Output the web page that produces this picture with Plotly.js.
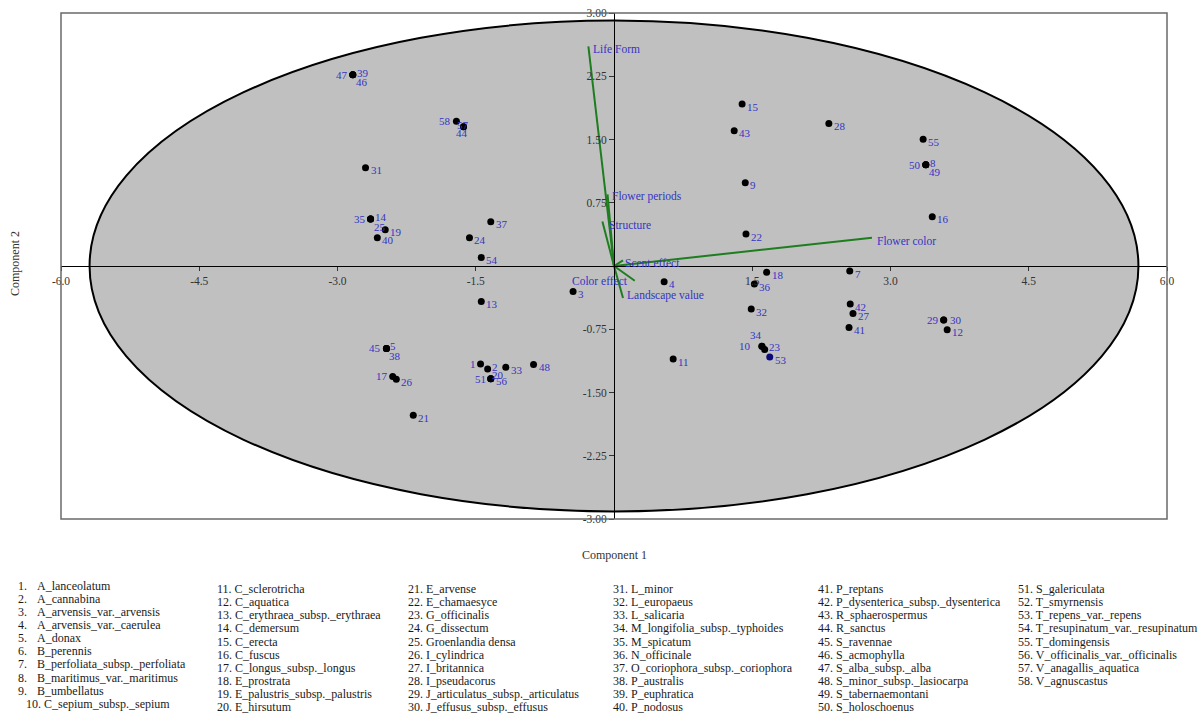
<!DOCTYPE html>
<html>
<head>
<meta charset="utf-8">
<script src="https://cdn.plot.ly/plotly-3.0.1.min.js"></script>
<style>
  html, body { margin: 0; padding: 0; background: #ffffff; }
  #chart { width: 1201px; height: 713px; }
</style>
</head>
<body>
<div id="chart"></div>
<script>
// ---------------- DATA ----------------
const pointIds = [1, 2, 3, 4, 5, 7, 8, 9, 10, 11, 12, 13, 14, 15, 16, 17, 18, 19, 20, 21,
  22, 23, 24, 25, 26, 27, 28, 29, 30, 31, 32, 33, 34, 35, 36, 37, 38, 39, 40, 41,
  42, 43, 44, 45, 46, 47, 48, 49, 50, 51, 53, 54, 55, 56, 57, 58];
const component1 = [-1.448, -1.371, -0.444, 0.544, -2.469, 2.558, 3.383, 1.424, 1.605, 0.642,
  3.615, -1.440, -2.641, 1.390, 3.453, -2.401, 1.656, -2.482, -1.337, -2.178,
  1.432, 1.635, -1.568, -2.641, -2.362, 2.593, 2.331, 3.577, 3.577, -2.696,
  1.489, -1.174, 1.605, -2.641, 1.523, -1.337, -2.469, -2.834, -2.568, 2.550,
  2.563, 1.304, -1.633, -2.469, -2.834, -2.834, -0.873, 3.383, 3.383, -1.337,
  1.690, -1.440, 3.354, -1.337, -1.633, -1.710];
const component2 = [-1.162, -1.222, -0.301, -0.186, -0.977, -0.060, 1.201, 0.988, -0.953, -1.103,
  -0.755, -0.420, 0.557, 1.921, 0.585, -1.309, -0.075, 0.430, -1.336, -1.771,
  0.379, -0.989, 0.336, 0.557, -1.344, -0.562, 1.691, -0.640, -0.640, 1.166,
  -0.510, -1.202, -0.953, 0.557, -0.214, 0.525, -0.977, 2.268, 0.336, -0.728,
  -0.451, 1.604, 1.652, -0.977, 2.268, 2.268, -1.167, 1.201, 1.201, -1.336,
  -1.079, 0.102, 1.502, -1.336, 1.652, 1.715];

const variableNames = ["Life Form", "Flower periods", "Structure", "Flower color",
  "Scent effect", "Color effect", "Landscape value"];
const loading1 = [-0.278, -0.070, -0.126, 2.799, 0.098, 0.225, 0.098];
const loading2 = [2.604, 0.850, 0.529, 0.336, 0.066, -0.175, -0.380];

const ellipseSemiAxis1 = 5.69;
const ellipseSemiAxis2 = 2.91;

const xTickValues = [-6, -4.5, -3, -1.5, 1.5, 3, 4.5, 6];
const xTickLabels = ["-6.0", "-4.5", "-3.0", "-1.5", "1.5", "3.0", "4.5", "6.0"];
const yTickValues = [3, 2.25, 1.5, 0.75, -0.75, -1.5, -2.25, -3];
const yTickLabels = ["3.00", "2.25", "1.50", "0.75", "-0.75", "-1.50", "-2.25", "-3.00"];

const speciesNames = ["A_lanceolatum", "A_cannabina", "A_arvensis_var._arvensis", "A_arvensis_var._caerulea",
  "A_donax", "B_perennis", "B_perfoliata_subsp._perfoliata", "B_maritimus_var._maritimus", "B_umbellatus",
  "C_sepium_subsp._sepium", "C_sclerotricha", "C_aquatica", "C_erythraea_subsp._erythraea", "C_demersum",
  "C_erecta", "C_fuscus", "C_longus_subsp._longus", "E_prostrata", "E_palustris_subsp._palustris",
  "E_hirsutum", "E_arvense", "E_chamaesyce", "G_officinalis", "G_dissectum", "Groenlandia densa",
  "I_cylindrica", "I_britannica", "I_pseudacorus", "J_articulatus_subsp._articulatus",
  "J_effusus_subsp._effusus", "L_minor", "L_europaeus", "L_salicaria", "M_longifolia_subsp._typhoides",
  "M_spicatum", "N_officinale", "O_coriophora_subsp._coriophora", "P_australis", "P_euphratica",
  "P_nodosus", "P_reptans", "P_dysenterica_subsp._dysenterica", "R_sphaerospermus", "R_sanctus",
  "S_ravennae", "S_acmophylla", "S_alba_subsp._alba", "S_minor_subsp._lasiocarpa", "S_tabernaemontani",
  "S_holoschoenus", "S_galericulata", "T_smyrnensis", "T_repens_var._repens",
  "T_resupinatum_var._resupinatum", "T_domingensis", "V_officinalis_var._officinalis",
  "V_anagallis_aquatica", "V_agnuscastus"];

// ---------------- STYLE / LAYOUT ----------------
const W = 1201, H = 713;
const M = {l: 61, r: 34, t: 13, b: 194};
const PW = W - M.l - M.r, PH = H - M.t - M.b;
const pxX = px => (px - M.l) / PW;
const pxY = py => (H - M.b - py) / PH;

const SERIF = "Liberation Serif, 'Times New Roman', serif";
const LABEL_BLUE = "#3434c4";
const GREEN = "#1e7d1e";

const placements = {
  r:  {xa: "left",   dx: 5,   dy: -2.5},
  l:  {xa: "right",  dx: -5,  dy: 0},
  ur: {xa: "left",   dx: 4,   dy: 2},
  dr: {xa: "left",   dx: 3,   dy: -7.5},
  u:  {xa: "center", dx: -6,  dy: 11},
  d:  {xa: "center", dx: -1,  dy: -6},
  o:  {xa: "center", dx: 0,   dy: 2},
  o2: {xa: "left",   dx: 1,   dy: 4},
  l2: {xa: "right",  dx: -11, dy: 0},
  r0: {xa: "left",   dx: 6,   dy: 0}
};
const placeOf = {47: "l", 39: "ur", 46: "dr", 58: "l", 44: "d", 57: "o", 35: "l", 14: "ur", 25: "dr",
  45: "l", 5: "ur", 38: "dr", 17: "l", 1: "l", 2: "ur", 51: "l", 20: "o2", 50: "l", 8: "ur", 49: "dr",
  29: "l", 30: "r0", 34: "u", 10: "l2", 23: "ur"};

const highlighted = [51, 53];

// traces
const vx = [], vy = [];
loading1.forEach((v, i) => { vx.push(0, v, null); vy.push(0, loading2[i], null); });
const vectorTrace = {
  type: "scatter", mode: "lines", x: vx, y: vy,
  line: {color: GREEN, width: 2}, hoverinfo: "skip", showlegend: false
};
const pointTrace = {
  type: "scatter", mode: "markers", x: component1, y: component2,
  marker: {size: 7, color: pointIds.map(id => highlighted.includes(id) ? "#0a0a78" : "#000000"),
           line: {width: 0}},
  text: pointIds.map(String), hoverinfo: "text", showlegend: false
};

const annotations = [];
// point labels
pointIds.forEach((id, i) => {
  const p = placements[placeOf[id] || "r"];
  annotations.push({
    x: component1[i], y: component2[i], xref: "x", yref: "y", text: String(id),
    showarrow: false, xanchor: p.xa, yanchor: "middle", xshift: p.dx, yshift: p.dy,
    font: {family: SERIF, size: 11, color: LABEL_BLUE}, borderpad: 0, borderwidth: 0
  });
});
// vector labels
const vecLabelOffsets = [
  {xa: "left", dx: 5, dy: -3}, {xa: "left", dx: 4.7, dy: -1.7}, {xa: "left", dx: 6.6, dy: -4},
  {xa: "left", dx: 4.7, dy: -3}, {xa: "left", dx: 2, dy: -2.6}, {xa: "right", dx: -7, dy: 0},
  {xa: "left", dx: 4, dy: 2.3}
];
variableNames.forEach((nm, i) => {
  const o = vecLabelOffsets[i];
  annotations.push({
    x: loading1[i], y: loading2[i], xref: "x", yref: "y", text: nm, showarrow: false,
    xanchor: o.xa, yanchor: "middle", xshift: o.dx, yshift: o.dy,
    font: {family: SERIF, size: 11.5, color: LABEL_BLUE}, borderpad: 0, borderwidth: 0
  });
});
// axis titles
annotations.push({
  x: pxX(614), y: pxY(555), xref: "paper", yref: "paper", text: "Component 1", showarrow: false,
  xanchor: "center", yanchor: "middle", font: {family: SERIF, size: 12, color: "#333"}
});
annotations.push({
  x: pxX(15), y: pxY(264), xref: "paper", yref: "paper", text: "Component 2", showarrow: false,
  textangle: -90, xanchor: "center", yanchor: "middle", font: {family: SERIF, size: 12, color: "#333"}
});
// species list below the chart
const legendFont = {family: SERIF, size: 12, color: "#1a1a1a"};
const colX = [17, 216, 407, 612, 817, 1017];
const step = 13.15;
speciesNames.forEach((nm, i) => {
  const n = i + 1;
  const col = Math.floor(i / 10), row = i % 10;
  const y = (col === 0 ? 585.5 : 589) + row * step;
  if (col === 0 && n < 10) {
    annotations.push({x: pxX(colX[0]), y: pxY(y), xref: "paper", yref: "paper", text: n + ".",
      showarrow: false, xanchor: "left", yanchor: "middle", font: legendFont, borderpad: 0});
    annotations.push({x: pxX(36), y: pxY(y), xref: "paper", yref: "paper", text: nm,
      showarrow: false, xanchor: "left", yanchor: "middle", font: legendFont, borderpad: 0});
  } else {
    const x = col === 0 ? 25 : colX[col];
    annotations.push({x: pxX(x), y: pxY(y), xref: "paper", yref: "paper", text: n + ". " + nm,
      showarrow: false, xanchor: "left", yanchor: "middle", font: legendFont, borderpad: 0});
  }
});

const layout = {
  width: W, height: H, margin: M,
  paper_bgcolor: "#ffffff", plot_bgcolor: "#ffffff",
  showlegend: false,
  xaxis: {
    range: [-6, 6], anchor: "free", position: 0.5, showgrid: false, zeroline: false,
    showline: true, linecolor: "#000", linewidth: 1.3,
    tickmode: "array", tickvals: xTickValues, ticktext: xTickLabels,
    ticks: "outside", ticklen: 4, tickcolor: "#333", tickwidth: 1,
    tickfont: {family: SERIF, size: 11.5, color: "#333333"}, fixedrange: true
  },
  yaxis: {
    range: [-3, 3], anchor: "free", position: 0.5, showgrid: false, zeroline: false,
    showline: true, linecolor: "#000", linewidth: 1.3,
    tickmode: "array", tickvals: yTickValues, ticktext: yTickLabels,
    ticks: "outside", ticklen: 5, tickcolor: "#333", tickwidth: 1,
    tickfont: {family: SERIF, size: 11.5, color: "#333333"}, fixedrange: true
  },
  shapes: [
    {type: "circle", xref: "x", yref: "y", x0: -ellipseSemiAxis1, x1: ellipseSemiAxis1,
     y0: -ellipseSemiAxis2, y1: ellipseSemiAxis2, fillcolor: "#c0c0c0",
     line: {color: "#000", width: 2}, layer: "below"},
    {type: "rect", xref: "paper", yref: "paper", x0: 0, x1: 1, y0: 0, y1: 1,
     line: {color: "#6a6a6a", width: 1.5}, fillcolor: "rgba(0,0,0,0)", layer: "above"}
  ],
  annotations: annotations
};

Plotly.newPlot("chart", [vectorTrace, pointTrace], layout, {displayModeBar: false, staticPlot: true});
</script>
</body>
</html>
